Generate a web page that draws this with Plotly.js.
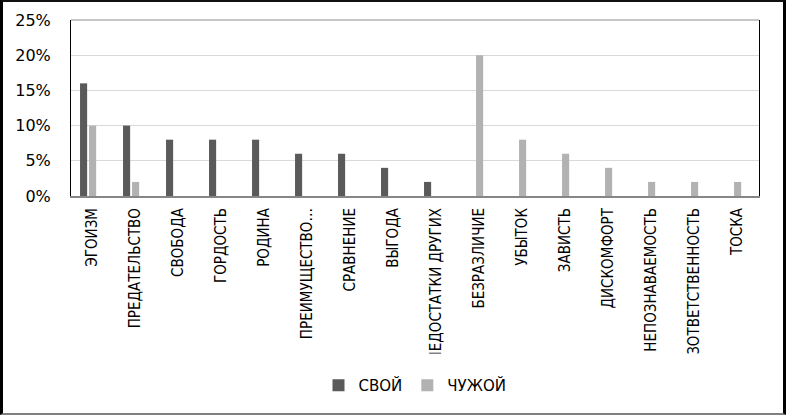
<!DOCTYPE html>
<html>
<head>
<meta charset="utf-8">
<script src="https://cdn.plot.ly/plotly-3.0.1.min.js"></script>
<style>
  html, body { margin: 0; padding: 0; background: #fff; }
  #wrap { position: relative; width: 786px; height: 415px; }
  #chart { position: absolute; left: 0; top: 0; width: 786px; height: 415px; }
  #frame { position: absolute; left: 0; top: 0; width: 780px; height: 411px;
           border-left: 3px solid #000; border-top: 2px solid #111;
           border-right: 3px solid #000; border-bottom: 2px solid #808080;
           pointer-events: none; }
</style>
</head>
<body>
<div id="wrap">
  <div id="chart"></div>
  <div id="frame"></div>
</div>
<script>
const categories = ["ЭГОИЗМ", "ПРЕДАТЕЛЬСТВО", "СВОБОДА", "ГОРДОСТЬ", "РОДИНА",
  "ПРЕИМУЩЕСТВО…", "СРАВНЕНИЕ", "ВЫГОДА", "НЕДОСТАТКИ ДРУГИХ", "БЕЗРАЗЛИЧИЕ",
  "УБЫТОК", "ЗАВИСТЬ", "ДИСКОМФОРТ", "НЕПОЗНАВАЕМОСТЬ", "БЕЗОТВЕТСТВЕННОСТЬ", "ТОСКА"];
const svoy  = [16, 10, 8, 8, 8, 6, 6, 4, 2, 0, 0, 0, 0, 0, 0, 0];
const chuzhoy = [10, 2, 0, 0, 0, 0, 0, 0, 0, 20, 8, 6, 4, 2, 2, 2];
const seriesNames = ["СВОЙ", "ЧУЖОЙ"];
const yTicks = [0, 5, 10, 15, 20, 25];
const yTickText = ["0%", "5%", "10%", "15%", "20%", "25%"];

const traces = [
  { type: "bar", name: seriesNames[0], x: categories, y: svoy,
    marker: { color: "#5a5a5a" }, width: 0.165, offset: -0.29 },
  { type: "bar", name: seriesNames[1], x: categories, y: chuzhoy,
    marker: { color: "#b2b2b2" }, width: 0.165, offset: -0.08 }
];

const layout = {
  width: 786, height: 415,
  margin: { l: 71, r: 27, t: 20, b: 219 },
  paper_bgcolor: "#fff", plot_bgcolor: "#fff",
  barmode: "group",
  showlegend: true,
  legend: { orientation: "h", x: 0.5, xanchor: "center", y: -1.077, yanchor: "middle",
            font: { family: "DejaVu Sans, sans-serif", size: 15, color: "#000" },
            itemwidth: 30, tracegroupgap: 0 },
  xaxis: {
    type: "category", tickangle: -90,
    tickfont: { family: "Liberation Sans Narrow, DejaVu Sans Condensed, sans-serif", size: 15, color: "#000" },
    showline: true, linecolor: "#868686", linewidth: 2,
    showgrid: false, ticks: "", ticklabelstandoff: 4
  },
  yaxis: {
    range: [0, 25], tickmode: "array", tickvals: yTicks, ticktext: yTickText,
    tickfont: { family: "DejaVu Sans, sans-serif", size: 16, color: "#000" },
    showgrid: true, gridcolor: "#d9d9d9", gridwidth: 1,
    showline: true, linecolor: "#000", linewidth: 1, mirror: true,
    zeroline: false, ticks: "", ticklabelstandoff: 16
  },
  shapes: [
    { type: "line", xref: "paper", yref: "paper", x0: 0, x1: 1, y0: 1, y1: 1,
      line: { color: "#8c8c8c", width: 1 } },
    { type: "rect", xref: "paper", yref: "paper", x0: -0.05, x1: 1.02, y0: -0.895, y1: -1.0,
      fillcolor: "#fff", line: { width: 0 }, layer: "above" }
  ]
};

Plotly.newPlot("chart", traces, layout, { staticPlot: true, displayModeBar: false });
</script>
</body>
</html>
